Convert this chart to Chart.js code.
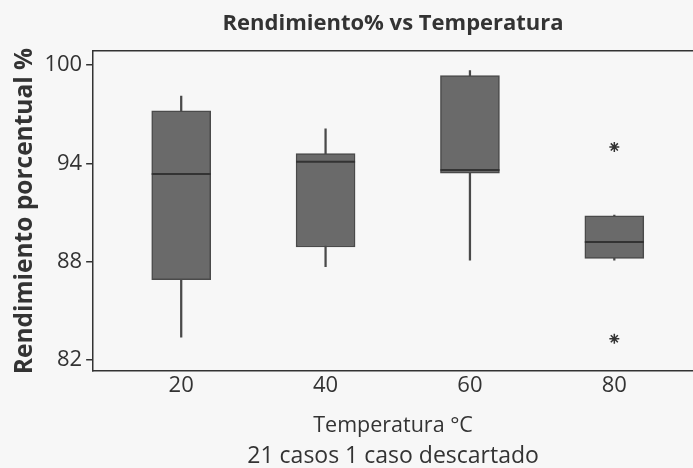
<!DOCTYPE html>
<html><head><meta charset="utf-8">
<script src="https://cdn.jsdelivr.net/npm/chart.js@4"></script>
<style>html,body{margin:0;padding:0;background:#f7f7f7;overflow:hidden}#wrap{width:693px;height:468px}</style>
</head><body><div id="wrap"><canvas id="c" width="693" height="468"></canvas></div>
<script>
const temperatures = [20, 40, 60, 80];
const whiskerLow = [83.4, 87.7, 88.1, 88.1];
const q1 = [86.9, 88.9, 93.4, 88.2];
const medians = [93.35, 94.1, 93.6, 89.2];
const q3 = [97.2, 94.6, 99.35, 90.8];
const whiskerHigh = [98.1, 96.1, 99.65, 90.85];
const outlierX = [80, 80];
const outlierY = [95.0, 83.3];
const yTicks = [82, 88, 94, 100];
const xTicks = [20, 40, 60, 80];

const FONT = 'Open Sans';
const TXT = '#333333';
const xMin = 7.8, xMax = 90.9;
const yMin = 81.33, yMax = 100.85;

const boxData = temperatures.map((t, i) => ({x: t, y: [q1[i], q3[i]]}));
const whiskerData = temperatures.map((t, i) => ({x: t, y: [whiskerLow[i], whiskerHigh[i]]}));
const medianData = temperatures.map((t, i) => ({x: t, y: medians[i]}));
const outlierData = outlierX.map((x, i) => ({x: x, y: outlierY[i]}));

new Chart(document.getElementById('c'), {
  type: 'bar',
  data: {
    datasets: [
      {type: 'line', data: outlierData, showLine: false, pointStyle: 'star', pointRadius: 5,
       pointBorderWidth: 1.5, pointBorderColor: '#333', pointBackgroundColor: '#333'},
      {type: 'line', data: medianData, showLine: false, pointStyle: 'line', pointRadius: 29.5,
       pointBorderWidth: 2, pointBorderColor: '#333333'},
      {type: 'bar', data: boxData, grouped: false, barThickness: 59, backgroundColor: '#6a6a6a',
       borderColor: '#4a4a4a', borderWidth: 1.5, borderSkipped: false},
      {type: 'bar', data: whiskerData, grouped: false, barThickness: 1.6, backgroundColor: '#4a4a4a',
       borderWidth: 0}
    ]
  },
  options: {
    responsive: false,
    animation: false,
    layout: {autoPadding: false, padding: {left: 9, right: 0, top: 0, bottom: 0}},
    plugins: {
      legend: {display: false},
      tooltip: {enabled: false},
      title: {display: true, fullSize: false, text: 'Rendimiento% vs Temperatura', color: TXT,
        font: {family: FONT, size: 22, weight: 'bold', lineHeight: 1.2}, padding: {top: 11, bottom: 13.6}},
      subtitle: {display: true, fullSize: false, position: 'bottom', text: '21 casos 1 caso descartado', color: TXT,
        font: {family: FONT, size: 23, lineHeight: 1.0}, padding: {top: 0, bottom: 0}}
    },
    scales: {
      x: {type: 'linear', position: 'bottom', min: xMin, max: xMax, offset: false,
        afterBuildTicks: ax => { ax.ticks = xTicks.map(v => ({value: v})); },
        grid: {display: false, offset: false, drawTicks: false},
        border: {display: true, color: '#333', width: 1.5},
        ticks: {color: TXT, font: {family: FONT, size: 22, lineHeight: 1.2}, padding: 1, maxRotation: 0},
        title: {display: true, text: 'Temperatura °C', color: TXT,
          font: {family: FONT, size: 21.5, lineHeight: 1.0}, padding: {top: 16, bottom: 8}}
      },
      xTop: {type: 'linear', position: 'top', min: xMin, max: xMax, offset: false,
        grid: {display: false, offset: false, drawTicks: false}, ticks: {display: false},
        border: {display: true, color: '#333', width: 1.5}
      },
      y: {type: 'linear', min: yMin, max: yMax,
        afterBuildTicks: ax => { ax.ticks = yTicks.map(v => ({value: v})); },
        grid: {display: true, drawOnChartArea: false, drawTicks: true, tickLength: 7, color: '#333', lineWidth: 1.5},
        border: {display: true, color: '#333', width: 1.5},
        ticks: {color: TXT, font: {family: FONT, size: 22}, padding: 4},
        title: {display: true, text: 'Rendimiento porcentual %', color: TXT,
          font: {family: FONT, size: 24.5, weight: 'bold', lineHeight: 1.2}, padding: 1}
      }
    }
  }
});
</script>
</body></html>
